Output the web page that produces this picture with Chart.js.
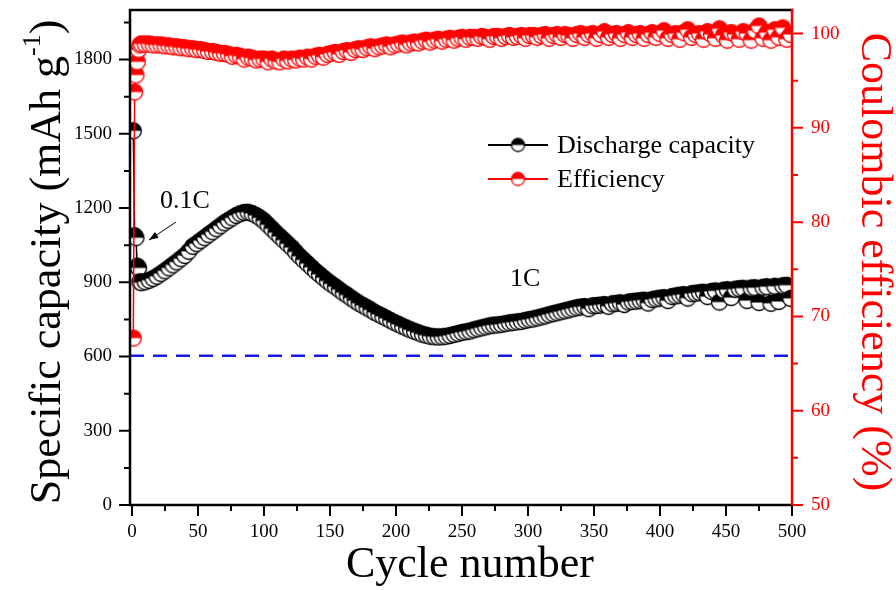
<!DOCTYPE html>
<html><head><meta charset="utf-8">
<script src="https://cdn.jsdelivr.net/npm/chart.js@4.4.1/dist/chart.umd.min.js"></script>
<style>html,body{margin:0;padding:0;background:#fff}#wrap{width:896px;height:590px;position:relative}</style>
</head><body><div id="wrap"><canvas id="c"></canvas></div>
<script>
// ---- data ----
const cycles = [1,2,3,4,5,6,7,10,13,16,19,22,25,28,31,34,37,40,43,46,49,52,55,58,61,64,67,70,73,76,79,82,85,88,91,94,97,100,103,106,109,112,115,118,121,124,127,130,133,136,139,142,145,148,151,154,157,160,163,166,169,172,175,178,181,184,187,190,193,196,199,202,205,208,211,214,217,220,223,226,229,232,235,238,241,244,247,250,253,256,259,262,265,268,271,274,277,280,283,286,289,292,295,298,301,304,307,310,313,316,319,322,325,328,331,334,337,340,343,346,349,352,355,358,361,364,367,370,373,376,379,382,385,388,391,394,397,400,403,406,409,412,415,418,421,424,427,430,433,436,439,442,445,448,451,454,457,460,463,466,469,472,475,478,481,484,487,490,493,496,499];
const capacity = [1512,1088,1080,965,958,902,
898,902,908,915,924,935,946,958,970,982,
995,1008,1025,1045,1056,1068,1080,1092,1104,1116,
1128,1140,1150,1160,1170,1177,1182,1183,1178,1170,
1160,1148,1132,1116,1100,1085,1070,1055,1040,1022,
1005,990,975,960,945,932,918,905,893,882,
870,858,848,836,825,815,806,797,788,778,
770,762,754,745,737,730,722,715,708,702,
696,690,686,682,680,679,680,682,685,689,
693,697,700,703,708,712,716,720,724,727,
728,730,733,736,738,740,742,746,749,752,
756,760,764,769,773,777,781,785,789,793,
797,800,802,793,805,806,808,810,803,813,
815,817,810,820,822,824,826,828,816,830,
833,836,838,826,842,845,848,850,836,854,
856,858,860,842,863,865,820,868,870,838,
872,874,876,826,877,878,818,880,882,815,
884,822,886,888,835];
const efficiency = [67.7,93.8,95.6,97.0,98.3,98.8,
98.9,98.9,98.9,98.8,98.8,98.8,98.7,98.7,98.6,98.6,
98.5,98.5,98.4,98.4,98.3,98.3,98.2,98.1,98.1,98.0,
97.9,97.9,97.8,97.6,97.7,97.6,97.3,97.5,97.4,97.2,
97.3,97.3,97.0,97.3,97.1,97.0,97.3,97.1,97.3,97.2,
97.4,97.3,97.5,97.3,97.6,97.7,97.5,97.8,97.9,98.0,
97.8,98.1,98.2,98.0,98.3,98.4,98.3,98.5,98.6,98.4,
98.6,98.7,98.8,98.6,98.8,98.9,99.0,98.8,99.0,99.1,
99.0,99.2,99.3,99.1,99.3,99.4,99.2,99.4,99.5,99.3,
99.5,99.6,99.4,99.6,99.6,99.5,99.7,99.6,99.4,99.7,
99.7,99.5,99.7,99.8,99.6,99.7,99.8,99.5,99.8,99.8,
99.6,99.8,99.9,99.5,99.8,99.9,99.6,99.9,99.8,99.5,
99.9,100.0,99.6,99.9,100.0,99.5,99.9,100.2,99.6,99.9,
100.0,99.5,99.9,100.1,99.6,99.9,100.0,99.5,99.9,100.1,
99.6,100.0,100.3,99.5,99.9,100.0,99.4,100.1,100.4,99.6,
99.9,100.0,99.4,100.2,99.9,99.5,100.5,99.8,99.3,100.1,
99.9,99.4,100.2,100.0,99.3,100.3,100.8,99.5,100.1,99.3,
100.4,99.6,100.6,99.4,99.9];
const refCapacity = 603;            // dashed reference line value
const refRange = [-1.5, 500];
const xTicks = [0,50,100,150,200,250,300,350,400,450,500];
const xMinor = [25,75,125,175,225,275,325,375,425,475];
const leftTicks = [0,300,600,900,1200,1500,1800];
const leftMinor = [150,450,750,1050,1350,1650,1950];
const rightTicks = [50,60,70,80,90,100];
const rightMinor = [55,65,75,85,95];
const seriesNames = ['Discharge capacity','Efficiency'];
const xTitle = 'Cycle number';
const yTitle = ['Specific capacity (mAh g', '-1', ')'];
const y1Title = 'Coulombic efficiency (%)';
const notes = ['0.1C','1C'];

// ---- styling ----
const FF = "'Liberation Serif','Times New Roman',serif";
const RED = '#ff0000', BLK = '#000000', BLUE = '#1a1ae6';

function halfMarker(color, r) {
  const s = 2 * Math.ceil(r) + 3;
  const c = document.createElement('canvas'); c.width = s; c.height = s;
  const g = c.getContext('2d'); const cx = s / 2, cy = s / 2;
  g.fillStyle = '#fff'; g.beginPath(); g.arc(cx, cy, r, 0, 2 * Math.PI); g.fill();
  g.fillStyle = color; g.beginPath(); g.arc(cx, cy, r, Math.PI, 2 * Math.PI); g.closePath(); g.fill();
  g.strokeStyle = color; g.lineWidth = 1.3; g.beginPath(); g.arc(cx, cy, r, 0, 2 * Math.PI); g.stroke();
  return c;
}
const blackMk = halfMarker(BLK, 8);
const redMk = halfMarker(RED, 8);
const blackLeg = halfMarker(BLK, 6.5);
const redLeg = halfMarker(RED, 6.5);

const decor = {
  id: 'decor',
  afterDatasetsDraw(chart) {
    const { ctx, chartArea: a, scales } = chart;
    const sx = scales.x, sy = scales.y, sy1 = scales.y1;
    ctx.save();
    // frame
    ctx.lineWidth = 2.5; ctx.lineCap = 'square';
    ctx.strokeStyle = BLK;
    ctx.beginPath();
    ctx.moveTo(a.right, a.top); ctx.lineTo(a.left, a.top); ctx.lineTo(a.left, a.bottom); ctx.lineTo(a.right, a.bottom);
    ctx.stroke();
    ctx.strokeStyle = RED;
    ctx.beginPath(); ctx.moveTo(a.right, a.top); ctx.lineTo(a.right, a.bottom); ctx.stroke();
    // ticks
    ctx.lineWidth = 2; ctx.lineCap = 'butt';
    ctx.strokeStyle = BLK;
    ctx.beginPath();
    xTicks.forEach(v => { const p = sx.getPixelForValue(v); ctx.moveTo(p, a.bottom); ctx.lineTo(p, a.bottom + 11); });
    xMinor.forEach(v => { const p = sx.getPixelForValue(v); ctx.moveTo(p, a.bottom); ctx.lineTo(p, a.bottom + 6); });
    leftTicks.forEach(v => { const p = sy.getPixelForValue(v); ctx.moveTo(a.left, p); ctx.lineTo(a.left - 11, p); });
    leftMinor.forEach(v => { const p = sy.getPixelForValue(v); ctx.moveTo(a.left, p); ctx.lineTo(a.left - 6, p); });
    ctx.stroke();
    ctx.strokeStyle = RED;
    ctx.beginPath();
    rightTicks.forEach(v => { const p = sy1.getPixelForValue(v); ctx.moveTo(a.right, p); ctx.lineTo(a.right + 11, p); });
    rightMinor.forEach(v => { const p = sy1.getPixelForValue(v); ctx.moveTo(a.right, p); ctx.lineTo(a.right + 6, p); });
    ctx.stroke();

    // axis titles
    ctx.fillStyle = BLK; ctx.textBaseline = 'alphabetic';
    ctx.font = `44px ${FF}`; ctx.textAlign = 'center';
    ctx.fillText(xTitle, 470, 577);
    // left title with superscript
    ctx.save();
    ctx.translate(60, 262); ctx.rotate(-Math.PI / 2);
    ctx.font = `44px ${FF}`;
    const w1 = ctx.measureText(yTitle[0]).width;
    const w3 = ctx.measureText(yTitle[2]).width;
    ctx.font = `26px ${FF}`;
    const w2 = ctx.measureText(yTitle[1]).width;
    let x0 = -(w1 + w2 + w3) / 2;
    ctx.textAlign = 'left';
    ctx.font = `44px ${FF}`; ctx.fillText(yTitle[0], x0, 0);
    ctx.font = `26px ${FF}`; ctx.fillText(yTitle[1], x0 + w1, -20);
    ctx.font = `44px ${FF}`; ctx.fillText(yTitle[2], x0 + w1 + w2, 0);
    ctx.restore();
    // right title
    ctx.save();
    ctx.translate(862, 262); ctx.rotate(Math.PI / 2);
    ctx.fillStyle = RED; ctx.font = `44px ${FF}`; ctx.textAlign = 'center';
    ctx.fillText(y1Title, 0, 0);
    ctx.restore();

    // legend
    const rows = [[145, BLK, blackLeg, seriesNames[0]], [179, RED, redLeg, seriesNames[1]]];
    rows.forEach(([yy, col, mk, txt]) => {
      ctx.strokeStyle = col; ctx.lineWidth = 2;
      ctx.beginPath(); ctx.moveTo(488, yy); ctx.lineTo(548, yy); ctx.stroke();
      ctx.drawImage(mk, 518 - mk.width / 2, yy - mk.height / 2);
      ctx.fillStyle = BLK; ctx.font = `26px ${FF}`; ctx.textAlign = 'left'; ctx.textBaseline = 'middle';
      ctx.fillText(txt, 557, yy + 1);
    });

    // annotations
    ctx.textBaseline = 'alphabetic'; ctx.textAlign = 'left'; ctx.fillStyle = BLK;
    ctx.font = `26px ${FF}`;
    ctx.fillText(notes[0], 160, 208);
    ctx.fillText(notes[1], 510, 286);
    // arrow
    ctx.strokeStyle = BLK; ctx.lineWidth = 1;
    const ax0 = 176, ay0 = 222, ax1 = 149, ay1 = 240;
    ctx.beginPath(); ctx.moveTo(ax0, ay0); ctx.lineTo(ax1, ay1); ctx.stroke();
    const ang = Math.atan2(ay1 - ay0, ax1 - ax0);
    ctx.beginPath();
    ctx.moveTo(ax1, ay1);
    ctx.lineTo(ax1 - 10 * Math.cos(ang - 0.35), ay1 - 10 * Math.sin(ang - 0.35));
    ctx.lineTo(ax1 - 10 * Math.cos(ang + 0.35), ay1 - 10 * Math.sin(ang + 0.35));
    ctx.closePath(); ctx.fillStyle = BLK; ctx.fill();
    ctx.restore();
  }
};

const tickFont = { family: FF, size: 19 };
new Chart(document.getElementById('c'), {
  type: 'line',
  data: {
    datasets: [
      { label: seriesNames[1], data: cycles.map((c, i) => ({ x: c, y: efficiency[i] })), yAxisID: 'y1',
        borderColor: RED, borderWidth: 1.5, pointStyle: redMk, pointRadius: 8, tension: 0, order: 1 },
      { label: seriesNames[0], data: cycles.map((c, i) => ({ x: c, y: capacity[i] })), yAxisID: 'y',
        borderColor: BLK, borderWidth: 1.5, pointStyle: blackMk, pointRadius: 8, tension: 0, order: 2 },
      { label: 'ref', data: refRange.map(x => ({ x, y: refCapacity })), yAxisID: 'y',
        borderColor: BLUE, borderWidth: 2.5, borderDash: [14, 9], pointRadius: 0, order: 3 }
    ]
  },
  options: {
    responsive: true, maintainAspectRatio: false, animation: false, devicePixelRatio: 1, events: [],
    layout: { padding: { top: 10, left: 0, right: 0, bottom: 0 } },
    plugins: { legend: { display: false }, tooltip: { enabled: false } },
    scales: {
      x: {
        type: 'linear', min: -1.5, max: 500,
        grid: { display: false, drawTicks: false }, border: { display: false },
        afterBuildTicks: s => { s.ticks = xTicks.map(v => ({ value: v })); },
        ticks: { font: tickFont, color: BLK, padding: 16, maxRotation: 0, autoSkip: false, callback: v => String(v) },
        afterFit: s => { s.height = 85; s.paddingLeft = 0; s.paddingRight = 0; }
      },
      y: {
        position: 'left', min: 0, max: 2000,
        grid: { display: false, drawTicks: false }, border: { display: false },
        afterBuildTicks: s => { s.ticks = leftTicks.map(v => ({ value: v })); },
        ticks: { font: tickFont, color: BLK, padding: 18, autoSkip: false, callback: v => String(v) },
        afterFit: s => { s.width = 130; s.paddingTop = 0; s.paddingBottom = 0; }
      },
      y1: {
        position: 'right', min: 50, max: 102.5,
        grid: { display: false, drawTicks: false }, border: { display: false },
        afterBuildTicks: s => { s.ticks = rightTicks.map(v => ({ value: v })); },
        ticks: { font: tickFont, color: RED, padding: 19, autoSkip: false, callback: v => String(v) },
        afterFit: s => { s.width = 104; s.paddingTop = 0; s.paddingBottom = 0; }
      }
    }
  },
  plugins: [decor]
});
</script>
</body></html>
